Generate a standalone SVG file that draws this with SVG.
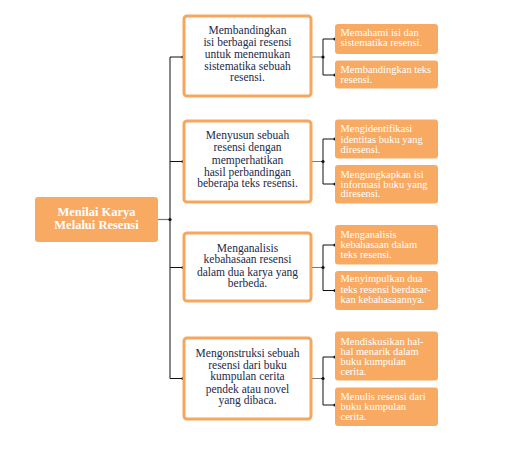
<svg xmlns="http://www.w3.org/2000/svg" width="512" height="467" viewBox="0 0 512 467">
<style>
.bx{fill:#fff;stroke:#f7a65e;stroke-width:3}
.sb{fill:#f8aa63}
.mt{font-family:"Liberation Serif",serif;font-size:11.5px;fill:#22294a;text-anchor:middle}
.st{font-family:"Liberation Serif",serif;font-size:10.5px;fill:#fff}
.hd{font-family:"Liberation Serif",serif;font-size:12.5px;font-weight:bold;fill:#fff;text-anchor:middle}
.ln{stroke:#111;stroke-width:1;fill:none}
.gl{stroke:#777;stroke-width:1.2;fill:none}
.dt{fill:#111}
</style>
<rect width="512" height="467" fill="#fff"/>
<g id="connectors">
<path class="gl" d="M158 219.5H170"/>
<path class="ln" d="M170 57V378.5M170 57H183M170 161.5H183M170 267.5H183M170 378.5H183"/>
<path class="gl" d="M311 57H323M311 161.5H323M311 267.5H323M311 378.5H323"/>
<path class="ln" d="M323 39V75M323 39H335M323 75H335"/>
<path class="ln" d="M323 139V184M323 139H335M323 184H335"/>
<path class="ln" d="M323 245V290.5M323 245H335M323 290.5H335"/>
<path class="ln" d="M323 357V405M323 357H335M323 405H335"/>
<g class="dt">
<circle cx="170" cy="219.5" r="1.6"/>
<circle cx="183" cy="57" r="1.6"/><circle cx="183" cy="161.5" r="1.6"/><circle cx="183" cy="267.5" r="1.6"/><circle cx="183" cy="378.5" r="1.6"/>
<circle cx="323" cy="57" r="1.6"/><circle cx="323" cy="161.5" r="1.6"/><circle cx="323" cy="267.5" r="1.6"/><circle cx="323" cy="378.5" r="1.6"/>
<circle cx="335" cy="39" r="1.6"/><circle cx="335" cy="75" r="1.6"/>
<circle cx="335" cy="139" r="1.6"/><circle cx="335" cy="184" r="1.6"/>
<circle cx="335" cy="245" r="1.6"/><circle cx="335" cy="290.5" r="1.6"/>
<circle cx="335" cy="357" r="1.6"/><circle cx="335" cy="405" r="1.6"/>
</g>
</g>
<g id="main">
<rect x="35" y="197" width="123" height="45" rx="3" fill="#f8a962"/>
<text class="hd" x="96.5" y="216">Menilai Karya</text>
<text class="hd" x="96.5" y="228.5">Melalui Resensi</text>
</g>
<g id="box1">
<rect class="bx" x="184" y="16" width="127" height="80" rx="3"/>
<text class="mt"><tspan x="247.5" y="33.5">Membandingkan</tspan><tspan x="247.5" y="45.5">isi berbagai resensi</tspan><tspan x="247.5" y="57.5">untuk menemukan</tspan><tspan x="247.5" y="69.5">sistematika sebuah</tspan><tspan x="247.5" y="81">resensi.</tspan></text>
</g>
<g id="box2">
<rect class="bx" x="184" y="121" width="127" height="81" rx="3"/>
<text class="mt"><tspan x="247.5" y="138.5">Menyusun sebuah</tspan><tspan x="247.5" y="151">resensi dengan</tspan><tspan x="247.5" y="163.5">memperhatikan</tspan><tspan x="247.5" y="176">hasil perbandingan</tspan><tspan x="247.5" y="187">beberapa teks resensi.</tspan></text>
</g>
<g id="box3">
<rect class="bx" x="184" y="233" width="127" height="68" rx="3"/>
<text class="mt"><tspan x="247.5" y="251.5">Menganalisis</tspan><tspan x="247.5" y="263">kebahasaan resensi</tspan><tspan x="247.5" y="275.5">dalam dua karya yang</tspan><tspan x="247.5" y="287">berbeda.</tspan></text>
</g>
<g id="box4">
<rect class="bx" x="184" y="338" width="127" height="81" rx="3"/>
<text class="mt"><tspan x="247.5" y="357">Mengonstruksi sebuah</tspan><tspan x="247.5" y="368.5">resensi dari buku</tspan><tspan x="247.5" y="380">kumpulan cerita</tspan><tspan x="247.5" y="392.5">pendek atau novel</tspan><tspan x="247.5" y="403.5">yang dibaca.</tspan></text>
</g>
<g id="sub1a">
<rect class="sb" x="335" y="24" width="103" height="30" rx="3"/>
<text class="st"><tspan x="340.5" y="36">Memahami isi dan</tspan><tspan x="340.5" y="46">sistematika resensi.</tspan></text>
</g>
<g id="sub1b">
<rect class="sb" x="335" y="60.5" width="103" height="28" rx="3"/>
<text class="st"><tspan x="340.5" y="73">Membandingkan teks</tspan><tspan x="340.5" y="83">resensi.</tspan></text>
</g>
<g id="sub2a">
<rect class="sb" x="335" y="119.5" width="103" height="39" rx="3"/>
<text class="st"><tspan x="340.5" y="132">Mengidentifikasi</tspan><tspan x="340.5" y="143">identitas buku yang</tspan><tspan x="340.5" y="153">diresensi.</tspan></text>
</g>
<g id="sub2b">
<rect class="sb" x="335" y="165" width="103" height="38.5" rx="3"/>
<text class="st"><tspan x="340.5" y="178">Mengungkapkan isi</tspan><tspan x="340.5" y="187.5">informasi buku yang</tspan><tspan x="340.5" y="197">diresensi.</tspan></text>
</g>
<g id="sub3a">
<rect class="sb" x="335" y="225" width="103" height="39.5" rx="3"/>
<text class="st"><tspan x="340.5" y="238">Menganalisis</tspan><tspan x="340.5" y="248">kebahasaan dalam</tspan><tspan x="340.5" y="258">teks resensi.</tspan></text>
</g>
<g id="sub3b">
<rect class="sb" x="335" y="271" width="103" height="39" rx="3"/>
<text class="st"><tspan x="340.5" y="282">Menyimpulkan dua</tspan><tspan x="340.5" y="292.5">teks resensi berdasar-</tspan><tspan x="340.5" y="302.5">kan kebahasaannya.</tspan></text>
</g>
<g id="sub4a">
<rect class="sb" x="335" y="331.5" width="103" height="49" rx="3"/>
<text class="st"><tspan x="340.5" y="344.5">Mendiskusikan hal-</tspan><tspan x="340.5" y="354.5">hal menarik dalam</tspan><tspan x="340.5" y="364.5">buku kumpulan</tspan><tspan x="340.5" y="374.5">cerita.</tspan></text>
</g>
<g id="sub4b">
<rect class="sb" x="335" y="387.5" width="103" height="38.5" rx="3"/>
<text class="st"><tspan x="340.5" y="399.5">Menulis resensi dari</tspan><tspan x="340.5" y="409.5">buku kumpulan</tspan><tspan x="340.5" y="419.5">cerita.</tspan></text>
</g>
</svg>
